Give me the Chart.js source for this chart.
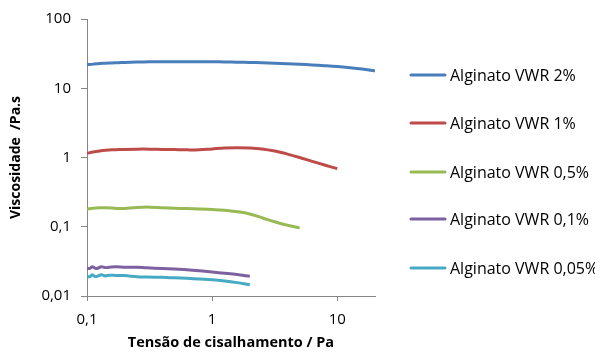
<!DOCTYPE html>
<html><head><meta charset="utf-8">
<script src="https://cdn.jsdelivr.net/npm/chart.js@4/dist/chart.umd.min.js"></script>
<style>html,body{margin:0;padding:0;background:#fff;}#wrap{width:595px;height:352px;position:relative;}</style>
</head><body><div id="wrap"><canvas id="c"></canvas></div>
<script>
const seriesLabels = ['Alginato VWR 2%','Alginato VWR 1%','Alginato VWR 0,5%','Alginato VWR 0,1%','Alginato VWR 0,05%'];
const xTicks = [0.1, 1, 10];
const yTicks = [0.01, 0.1, 1, 10, 100];

const x2 = [0.1,0.112,0.126,0.141,0.158,0.178,0.2,0.25,0.316,0.4,0.5,0.63,0.79,1,1.26,1.58,2,2.5,3.16,4,5,6.3,7.9,10,12.6,15.8,20];
const y2 = [22,22.3,22.8,23,23.2,23.4,23.6,23.9,24.1,24.2,24.2,24.2,24.2,24.1,24,23.8,23.6,23.3,23,22.6,22.2,21.7,21.2,20.6,19.8,18.9,17.8];

const x1 = [0.1,0.112,0.126,0.141,0.158,0.178,0.2,0.25,0.316,0.4,0.5,0.63,0.79,1,1.26,1.58,2,2.5,3.16,4,5,6.3,7.9,10];
const y1 = [1.15,1.2,1.24,1.27,1.29,1.3,1.31,1.32,1.32,1.31,1.3,1.29,1.29,1.33,1.37,1.38,1.37,1.33,1.24,1.12,1.0,0.88,0.78,0.69];

const x05 = [0.1,0.112,0.126,0.141,0.158,0.178,0.2,0.25,0.316,0.4,0.5,0.63,0.79,1,1.26,1.58,2,2.5,3.16,4,5];
const y05 = [0.18,0.185,0.188,0.188,0.186,0.183,0.184,0.19,0.192,0.188,0.185,0.183,0.181,0.178,0.173,0.165,0.153,0.135,0.118,0.105,0.096];

const x01 = [0.1,0.105,0.11,0.115,0.12,0.13,0.14,0.15,0.17,0.2,0.25,0.3,0.4,0.5,0.63,0.79,1,1.26,1.58,2];
const y01 = [0.025,0.025,0.0265,0.0255,0.025,0.0265,0.0257,0.026,0.0265,0.026,0.026,0.0255,0.025,0.0245,0.024,0.0232,0.0222,0.0213,0.0204,0.0193];

const x005 = [0.1,0.105,0.11,0.115,0.12,0.13,0.14,0.15,0.17,0.2,0.25,0.3,0.4,0.5,0.63,0.79,1,1.26,1.58,2];
const y005 = [0.019,0.019,0.0203,0.0192,0.0192,0.0203,0.0195,0.02,0.0198,0.0197,0.019,0.0188,0.0186,0.0183,0.018,0.0176,0.0172,0.0165,0.0156,0.0145];

const colors = ['#4A7EBB','#BE4B48','#98B954','#7D60A0','#46AAC5'];
const xs = [x2,x1,x05,x01,x005];
const ys = [y2,y1,y05,y01,y005];

const datasets = seriesLabels.map((l,i)=>({
  label:l,
  data: xs[i].map((x,j)=>({x:x,y:ys[i][j]})),
  borderColor: colors[i], backgroundColor: colors[i],
  borderWidth: 3, pointRadius: 0, tension: 0.35, fill:false
}));

const fmt = v => String(v).replace('.', ',');
const FONT = 'Open Sans';

const legendPlugin = {
  id:'customLegend',
  afterDraw(chart){
    const ctx = chart.ctx;
    ctx.save();
    const x0 = 411, x1l = 445, tx = 450;
    const ys0 = [75,123,172,219,268];
    ctx.font = '16px "' + FONT + '"';
    ctx.textBaseline = 'middle';
    ctx.textAlign = 'left';
    chart.data.datasets.forEach((ds,i)=>{
      ctx.strokeStyle = ds.borderColor; ctx.lineWidth = 3; ctx.lineCap='round';
      ctx.beginPath(); ctx.moveTo(x0, ys0[i]); ctx.lineTo(x1l, ys0[i]); ctx.stroke();
      ctx.fillStyle = '#000';
      ctx.fillText(ds.label, tx, ys0[i]+1);
    });
    ctx.restore();
  }
};

new Chart(document.getElementById('c'), {
  type:'line',
  data:{datasets},
  options:{
    responsive:true, maintainAspectRatio:false, animation:false,
    layout:{padding:{left:0,top:18,right:220,bottom:0}},
    plugins:{legend:{display:false}, tooltip:{enabled:false}},
    scales:{
      x:{
        type:'logarithmic', min:0.1, max:20,
        afterBuildTicks: s => { s.ticks = xTicks.map(v=>({value:v})); },
        afterFit: s => { s.height = 56; },
        ticks:{ callback: v => fmt(v), color:'#000', font:{family:FONT,size:15}, padding:10, maxRotation:0, autoSkip:false },
        grid:{ display:true, drawOnChartArea:false, drawTicks:true, tickLength:5, color:'#868686' },
        border:{ display:true, color:'#868686', width:1 },
        title:{ display:true, text:'Tensão de cisalhamento / Pa', color:'#000', font:{family:FONT,size:14.5,weight:'bold'}, padding:{top:6,bottom:0} }
      },
      y:{
        type:'logarithmic', min:0.01, max:100,
        afterBuildTicks: s => { s.ticks = yTicks.map(v=>({value:v})); },
        afterFit: s => { s.width = 87; },
        ticks:{ callback: v => fmt(v), color:'#000', font:{family:FONT,size:15}, padding:10, autoSkip:false },
        grid:{ display:true, drawOnChartArea:false, drawTicks:true, tickLength:6, color:'#868686' },
        border:{ display:true, color:'#868686', width:1 },
        title:{ display:true, text:'Viscosidade  /Pa.s', color:'#000', font:{family:FONT,size:14,weight:'bold'}, padding:{top:8,bottom:0} }
      }
    }
  },
  plugins:[legendPlugin]
});
</script></body></html>
